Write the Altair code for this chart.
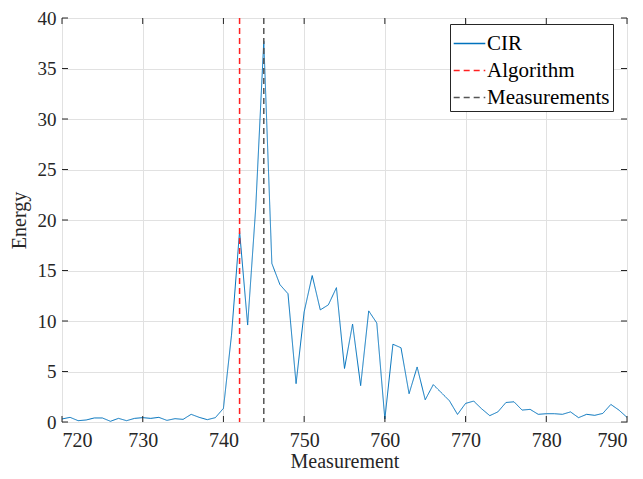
import altair as alt
import pandas as pd

# CIR samples
cir_x = list(range(720, 791))
cir_y = [0.30, 0.46, 0.13, 0.20, 0.40, 0.40, 0.07, 0.36, 0.13, 0.36,
         0.43, 0.36, 0.46, 0.16, 0.33, 0.26, 0.76, 0.46, 0.23, 0.43,
         1.35,
         8.6, 18.9, 9.6, 21.2, 37.7, 15.7, 13.6, 12.7, 3.8, 10.9,
         14.5, 11.1, 11.6, 13.3, 5.3, 9.7, 3.6, 11.0, 9.8, 0.3,
         7.7, 7.35, 2.8, 5.45, 2.2, 3.7, 2.9, 2.1, 0.75, 1.84,
         2.07, 1.3, 0.63, 1.0, 1.93, 2.0, 1.18, 1.25, 0.76, 0.82,
         0.82, 0.76, 1.0, 0.43, 0.76, 0.66, 0.85, 1.74, 1.18, 0.46]

marker_names = ["Algorithm", "Measurements"]
marker_x = [742, 745]

series_names = ["CIR", "Algorithm", "Measurements"]
series_colors = ["#0072BD", "#FF2020", "#555555"]
series_dash = [[1, 0], [6, 4], [6, 4]]

x_ticks = list(range(720, 791, 10))
y_ticks = list(range(0, 41, 5))

cir_df = pd.DataFrame({"x": cir_x, "y": cir_y, "series": "CIR"})
mark_df = pd.DataFrame({"x": marker_x, "series": marker_names})
xt_df = pd.DataFrame({"x": x_ticks})
yt_df = pd.DataFrame({"y": y_ticks})

W, H = 565, 404
FONT = "Liberation Serif"
TXT = "#262626"

xscale = alt.Scale(domain=[720, 790], nice=False, zero=False)
yscale = alt.Scale(domain=[0, 40], nice=False)
cscale = alt.Scale(domain=series_names, range=series_colors)
dscale = alt.Scale(domain=series_names, range=series_dash)

legend = alt.Legend(
    title=None, orient="none", legendX=388, legendY=6,
    symbolType="stroke", symbolSize=1000, symbolStrokeWidth=1.3,
    labelFont=FONT, labelFontSize=21, labelColor="#000000",
    fillColor="white", strokeColor=TXT, padding=3, rowPadding=-8,
    labelOffset=1, cornerRadius=0,
)

xaxis = alt.Axis(values=x_ticks, title="Measurement", ticks=False, domain=False,
                 grid=True, labelPadding=8, titlePadding=1)
yaxis = alt.Axis(values=y_ticks, title="Energy", ticks=False, domain=False,
                 grid=True, labelPadding=6, labelFontSize=19, titlePadding=8)

line = alt.Chart(cir_df).mark_line(strokeWidth=1, clip=True).encode(
    x=alt.X("x:Q", scale=xscale, axis=xaxis),
    y=alt.Y("y:Q", scale=yscale, axis=yaxis),
    color=alt.Color("series:N", scale=cscale, legend=legend),
    strokeDash=alt.StrokeDash("series:N", scale=dscale, legend=legend),
)

rules = alt.Chart(mark_df).mark_rule(strokeWidth=1.5).encode(
    x=alt.X("x:Q", scale=xscale),
    color=alt.Color("series:N", scale=cscale, legend=legend),
    strokeDash=alt.StrokeDash("series:N", scale=dscale, legend=legend),
)

tk = dict(color=TXT, strokeWidth=1)
xt_bot = alt.Chart(xt_df).mark_rule(**tk).encode(
    x=alt.X("x:Q", scale=xscale), y=alt.value(H), y2=alt.value(H - 6))
xt_top = alt.Chart(xt_df).mark_rule(**tk).encode(
    x=alt.X("x:Q", scale=xscale), y=alt.value(0), y2=alt.value(6))
yt_left = alt.Chart(yt_df).mark_rule(**tk).encode(
    y=alt.Y("y:Q", scale=yscale), x=alt.value(0), x2=alt.value(6))
yt_right = alt.Chart(yt_df).mark_rule(**tk).encode(
    y=alt.Y("y:Q", scale=yscale), x=alt.value(W), x2=alt.value(W - 6))

chart = alt.layer(line, rules, xt_bot, xt_top, yt_left, yt_right).properties(
    width=W, height=H,
    autosize=alt.AutoSizeParams(type="none"),
    padding={"left": 54, "top": 10, "right": 8, "bottom": 49},
    background="white",
).configure_view(
    stroke=TXT, strokeWidth=1
).configure_axis(
    labelFont=FONT, labelFontSize=20, labelColor=TXT,
    titleFont=FONT, titleFontSize=20, titleColor=TXT, titleFontWeight="normal",
    gridColor="#E1E1E1", gridWidth=1,
)

chart.save("out.html", embed_options={"renderer": "svg", "actions": False})
